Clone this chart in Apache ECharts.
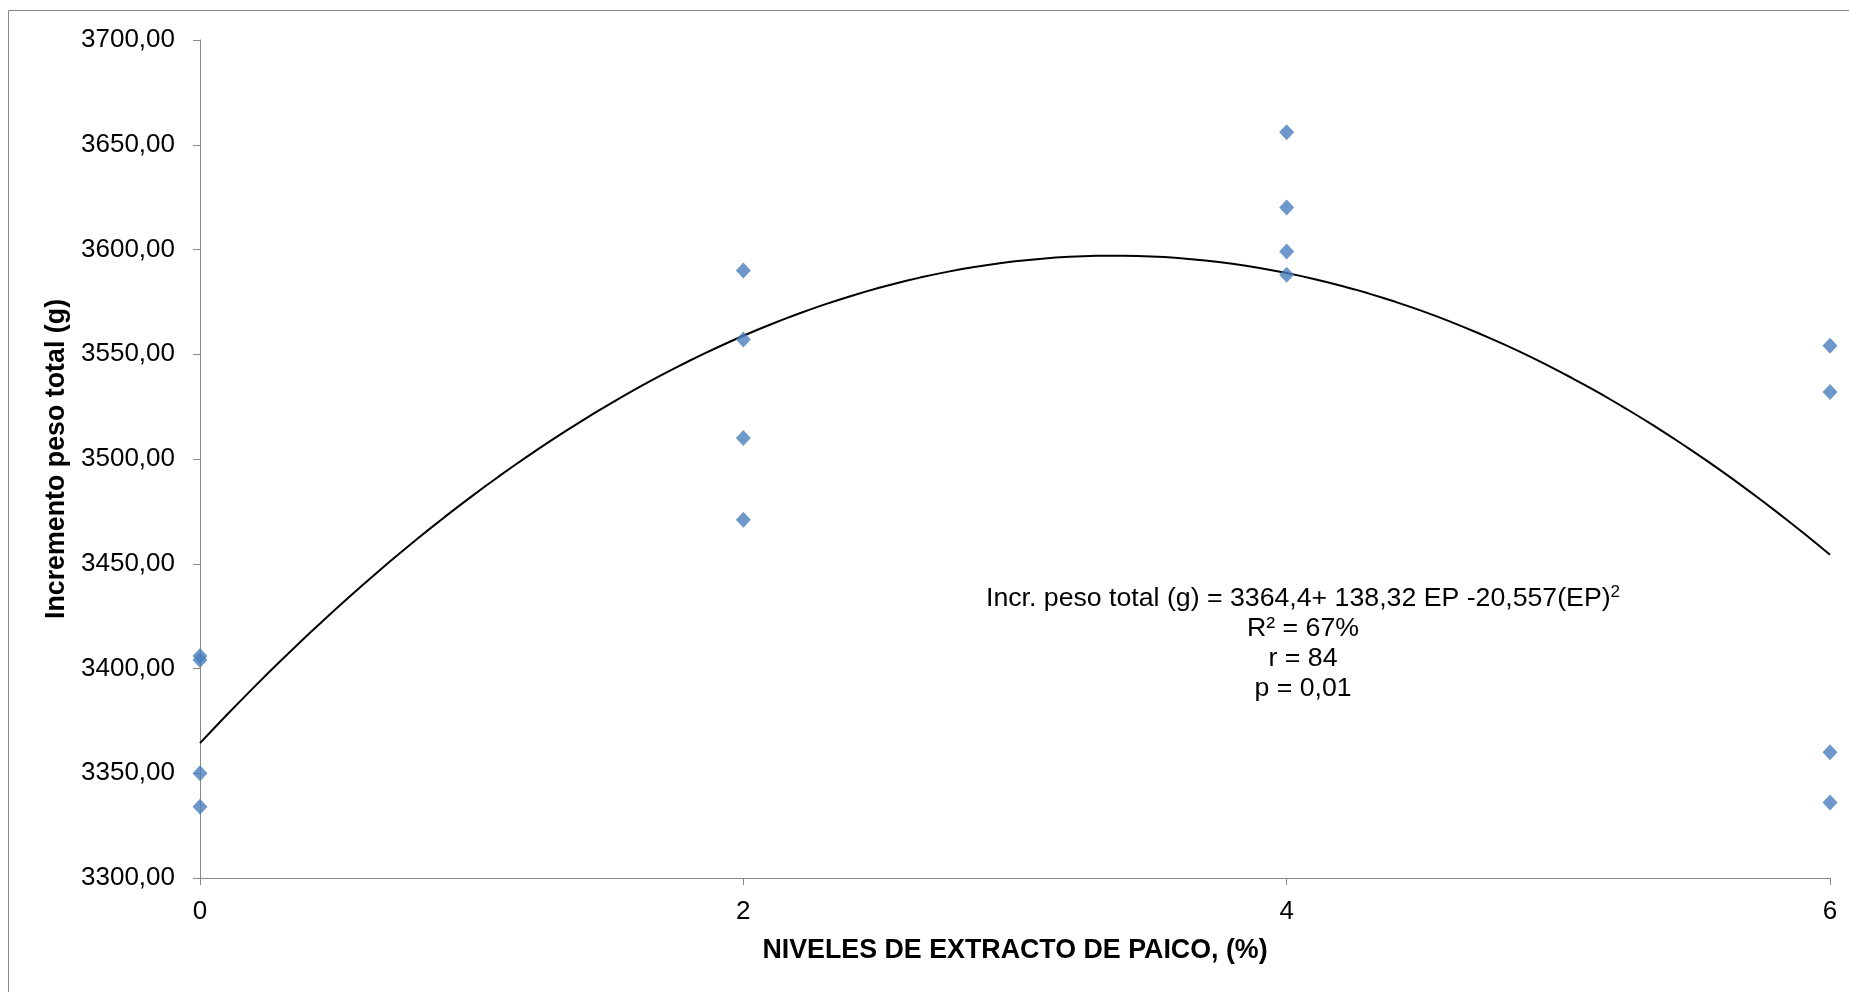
<!DOCTYPE html>
<html>
<head>
<meta charset="utf-8">
<script src="https://cdn.jsdelivr.net/npm/echarts@6/dist/echarts.min.js"></script>
<style>
html,body{margin:0;padding:0;background:#fff;}
#c{width:1849px;height:992px;}
</style>
</head>
<body>
<div id="c"></div>
<script>
// Data
var levels0 = [0, 0, 0, 0];
var values0 = [3406, 3404, 3350, 3334];
var levels2 = [2, 2, 2, 2];
var values2 = [3590, 3557, 3510, 3471];
var levels4 = [4, 4, 4, 4];
var values4 = [3656, 3620, 3599, 3588];
var levels6 = [6, 6, 6, 6];
var values6 = [3554, 3532, 3360, 3336];
// Trend coefficients as stated on the chart: a + b*x + c*x^2
var trendCoef = [3364.4, 138.32, -20.557];
var xTicks = [0, 2, 4, 6];
var yTickMin = 3300, yTickMax = 3700, yTickStep = 50;
var eqLines = ['Incr. peso total (g) = 3364,4+ 138,32 EP -20,557(EP)', 'R² = 67%', 'r = 84', 'p = 0,01'];
var xTitle = 'NIVELES DE EXTRACTO DE PAICO, (%)';
var yTitle = 'Incremento peso total (g)';

var pts = [];
[[levels0, values0], [levels2, values2], [levels4, values4], [levels6, values6]].forEach(function (g) {
  for (var i = 0; i < g[0].length; i++) pts.push([g[0][i], g[1][i]]);
});
var trend = [];
for (var k = 0; k <= 120; k++) {
  var x = 6 * k / 120;
  trend.push([x, trendCoef[0] + trendCoef[1] * x + trendCoef[2] * x * x]);
}

var FONT = 'Liberation Sans, Arial, sans-serif';
var chart = echarts.init(document.getElementById('c'), null, {renderer: 'canvas'});
chart.setOption({
  animation: false,
  backgroundColor: '#fff',
  grid: {left: 200, right: 19, top: 40, bottom: 114, containLabel: false},
  xAxis: {
    type: 'value', min: 0, max: 6, interval: 2,
    splitLine: {show: false},
    axisLine: {show: true, onZero: false, lineStyle: {color: '#888888', width: 1}},
    axisTick: {show: true, length: 7, lineStyle: {color: '#888888'}},
    axisLabel: {color: '#000', fontSize: 26, fontFamily: FONT, margin: 21,
      formatter: function (v) { return xTicks.indexOf(v) >= 0 ? String(v) : ''; }},
    name: xTitle, nameLocation: 'middle', nameGap: 59,
    nameTextStyle: {color: '#000', fontSize: 26.8, fontWeight: 'bold', fontFamily: FONT}
  },
  yAxis: {
    type: 'value', min: yTickMin, max: yTickMax, interval: yTickStep,
    splitLine: {show: false},
    axisLine: {show: true, onZero: false, lineStyle: {color: '#888888', width: 1}},
    axisTick: {show: true, length: 7, lineStyle: {color: '#888888'}},
    axisLabel: {color: '#000', fontSize: 26, fontFamily: FONT, margin: 25,
      formatter: function (v) { return v.toFixed(2).replace('.', ','); }},
    name: yTitle, nameLocation: 'middle', nameGap: 127, nameRotate: 90,
    nameTextStyle: {color: '#000', fontSize: 26.8, fontWeight: 'bold', fontFamily: FONT}
  },
  graphic: [
    {type: 'rect', silent: true, shape: {x: 8.5, y: 10.5, width: 2000, height: 2000},
      style: {fill: null, stroke: '#868686', lineWidth: 1}, z: -1},
    {type: 'text', left: 1303 - 400, top: 584, silent: true, z: 10,
      style: {
        text: '{a|' + eqLines[0] + '}{s|2}\n{a|' + eqLines[1] + '}\n{a|' + eqLines[2] + '}\n{a|' + eqLines[3] + '}',
        width: 800, align: 'center', x: 400, lineHeight: 30,
        fill: '#000', font: '26.7px ' + FONT,
        rich: {
          a: {fontSize: 26.7, fontFamily: FONT, color: '#000', lineHeight: 30, align: 'center'},
          s: {fontSize: 17, fontFamily: FONT, color: '#000', lineHeight: 30, verticalAlign: 'top', padding: [0, 0, 14, 0]}
        }
      }}
  ],
  series: [
    {type: 'line', data: trend, showSymbol: false, symbol: 'none', smooth: false,
      lineStyle: {color: '#000', width: 2}, z: 2, silent: true},
    {type: 'scatter', data: pts, symbol: 'diamond', symbolSize: [15, 16],
      itemStyle: {color: '#4A7EBB'}, z: 3}
  ]
});
</script>
</body>
</html>
